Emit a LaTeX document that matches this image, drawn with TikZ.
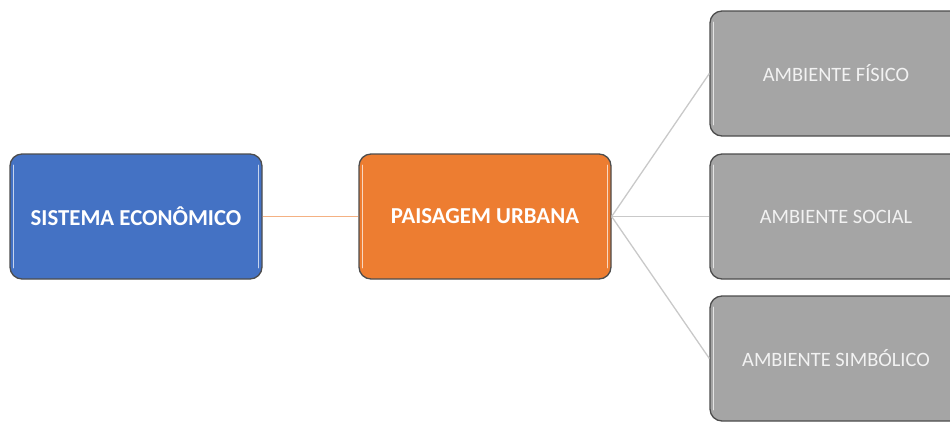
\documentclass[tikz,border=0pt]{standalone}
\usepackage{fontspec}
\setmainfont{Carlito}
\definecolor{blueF}{HTML}{4472C4}
\definecolor{orangeF}{HTML}{ED7D31}
\definecolor{grayF}{HTML}{A5A5A5}
\definecolor{edgeC}{HTML}{4D4D4D}
\definecolor{orangeL}{HTML}{F4B183}
\definecolor{grayL}{HTML}{C9C9C9}
\definecolor{grayT}{HTML}{F2F2F2}
\begin{document}
\begin{tikzpicture}[x=1pt,y=-1pt,
  box/.style={draw=edgeC, line width=1.3pt, rounded corners=12pt, minimum width=252pt, minimum height=125pt, inner sep=0pt},
  mainbox/.style={box, text=white, font=\fontsize{22.8}{27}\selectfont\bfseries},
  subbox/.style={box, fill=grayF, text=grayT, font=\fontsize{20.4}{24}\selectfont},
  shine/.style={white, opacity=0.7, line width=1.5pt, line cap=round}]
\useasboundingbox (0,0) rectangle (950,421);
\node[mainbox, fill=blueF] (sis) at (136,216.5) {SISTEMA ECONÔMICO};
\node[mainbox, fill=orangeF] (pai) at (485,216.5) {PAISAGEM URBANA};
\node[subbox] (fis) at (836,73.5) {AMBIENTE FÍSICO};
\node[subbox] (soc) at (836,216.5) {AMBIENTE SOCIAL};
\node[subbox] (sim) at (836,358.5) {AMBIENTE SIMBÓLICO};
\foreach \n in {sis,pai,fis,soc,sim}{
  \draw[shine] ([xshift=4pt,yshift=-12pt]\n.north west) -- ([xshift=4pt,yshift=12pt]\n.south west);
  \draw[shine] ([xshift=-4pt,yshift=-12pt]\n.north east) -- ([xshift=-4pt,yshift=12pt]\n.south east);
}
\draw[orangeL, line width=1.3pt] (sis.east) -- (pai.west);
\draw[grayL, line width=1.3pt] (pai.east) -- (fis.west);
\draw[grayL, line width=1.3pt] (pai.east) -- (soc.west);
\draw[grayL, line width=1.3pt] (pai.east) -- (sim.west);
\end{tikzpicture}
\end{document}
